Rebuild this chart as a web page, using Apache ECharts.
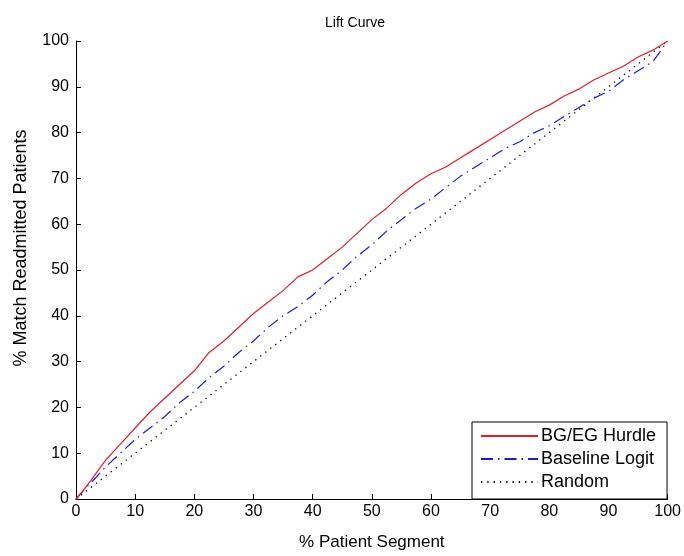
<!DOCTYPE html>
<html>
<head>
<meta charset="utf-8">
<script src="https://cdn.jsdelivr.net/npm/echarts@6/dist/echarts.min.js"></script>
<style>html,body{margin:0;padding:0;background:#fff}#c{width:684px;height:556px}</style>
</head>
<body>
<div id="c"></div>
<script>
// % Patient Segment (x) readings
const segX = [0, 1, 2.5, 5, 7.5, 10, 12.5, 15, 17.5, 20, 22.5, 25, 27.5, 30, 32.5, 35, 37.5, 40, 42.5, 45, 47.5, 50, 52.5, 55, 57.5, 60, 62.5, 65, 67.5, 70, 72.5, 75, 77.5, 80, 82.5, 85, 87.5, 90, 92.5, 95, 97.5, 100];
// BG/EG Hurdle
const hurdleY = [0, 1.5, 4, 8.5, 12, 15.5, 19, 22, 25, 28, 32, 34.5, 37.5, 40.5, 43, 45.5, 48.5, 50, 52.5, 55, 58, 61, 63.5, 66.5, 69, 71, 72.5, 74.5, 76.5, 78.5, 80.5, 82.5, 84.5, 86, 88, 89.5, 91.5, 93, 94.5, 96.5, 98, 100];
// Baseline Logit
const logitY = [0, 1.5, 3.5, 7, 10, 13, 15.5, 18, 21, 23.5, 26.5, 29, 32, 34.5, 37.5, 40, 42, 44.5, 47.5, 50, 53, 55.5, 58.5, 61, 63.5, 65.5, 68, 70.5, 72.5, 74.5, 76.5, 78, 80, 81.5, 83.5, 85.5, 87.5, 89, 91.5, 93.5, 95.5, 100];
// Random
const randomX = [0, 100];
const randomY = [0, 100];
const xTicks = [0, 10, 20, 30, 40, 50, 60, 70, 80, 90, 100];
const yTicks = [0, 10, 20, 30, 40, 50, 60, 70, 80, 90, 100];
const seriesNames = ['BG/EG Hurdle', 'Baseline Logit', 'Random'];
const titleText = 'Lift Curve';
const xName = '% Patient Segment';
const yName = '% Match Readmitted Patients';

const FONT = "'Liberation Sans', Arial, sans-serif";
const zip = (xs, ys) => xs.map((x, i) => [x, ys[i]]);

const chart = echarts.init(document.getElementById('c'), null, {renderer: 'canvas'});
chart.setOption({
  backgroundColor: '#fff',
  animation: false,
  textStyle: {fontFamily: FONT},
  title: {
    text: titleText, left: 350, top: 11, textAlign: 'center',
    textStyle: {fontSize: 14, fontWeight: 'normal', color: '#000', fontFamily: FONT}
  },
  grid: {left: 76, right: 13, top: 41, bottom: 48, containLabel: false},
  xAxis: {
    type: 'value', min: xTicks[0], max: xTicks[xTicks.length - 1], interval: 10,
    name: xName, nameLocation: 'middle', nameGap: 35,
    nameTextStyle: {fontSize: 17, color: '#000', fontFamily: FONT},
    axisLine: {show: true, lineStyle: {color: '#000', width: 1}},
    axisTick: {show: true, inside: true, length: 5, lineStyle: {color: '#000'}},
    axisLabel: {fontSize: 16, color: '#000', margin: 5, fontFamily: FONT},
    splitLine: {show: false}
  },
  yAxis: {
    type: 'value', min: yTicks[0], max: yTicks[yTicks.length - 1], interval: 10,
    name: yName, nameLocation: 'middle', nameGap: 46,
    nameTextStyle: {fontSize: 18, color: '#000', fontFamily: FONT, padding: [0, 0, 0, 44]},
    axisLine: {show: true, lineStyle: {color: '#000', width: 1}},
    axisTick: {show: true, inside: true, length: 5, lineStyle: {color: '#000'}},
    axisLabel: {fontSize: 16, color: '#000', margin: 7, fontFamily: FONT},
    splitLine: {show: false}
  },
  legend: {
    orient: 'vertical', left: 472, top: 422,
    data: seriesNames,
    itemWidth: 57, itemHeight: 14, itemGap: 5,
    padding: [5, 11, 8, 8],
    backgroundColor: '#fff', borderColor: '#000', borderWidth: 1, borderRadius: 0,
    itemStyle: {opacity: 0},
    textStyle: {fontSize: 18, color: '#000', fontFamily: FONT, padding: [0, 0, 0, -2]}
  },
  series: [
    {
      name: seriesNames[0], type: 'line', data: zip(segX, hurdleY),
      symbol: 'none', smooth: false, z: 3,
      lineStyle: {color: '#dd1f2a', width: 1.2},
      itemStyle: {color: '#dd1f2a'}
    },
    {
      name: seriesNames[1], type: 'line', data: zip(segX, logitY),
      symbol: 'none', smooth: false, z: 2,
      lineStyle: {color: '#1c1cd8', width: 1.2, type: [12, 5, 1.5, 5]},
      itemStyle: {color: '#1c1cd8'}
    },
    {
      name: seriesNames[2], type: 'line', data: zip(randomX, randomY),
      symbol: 'none', smooth: false, z: 1,
      lineStyle: {color: '#000', width: 1.3, type: [1.3, 5]},
      itemStyle: {color: '#000'}
    }
  ]
});
</script>
</body>
</html>
